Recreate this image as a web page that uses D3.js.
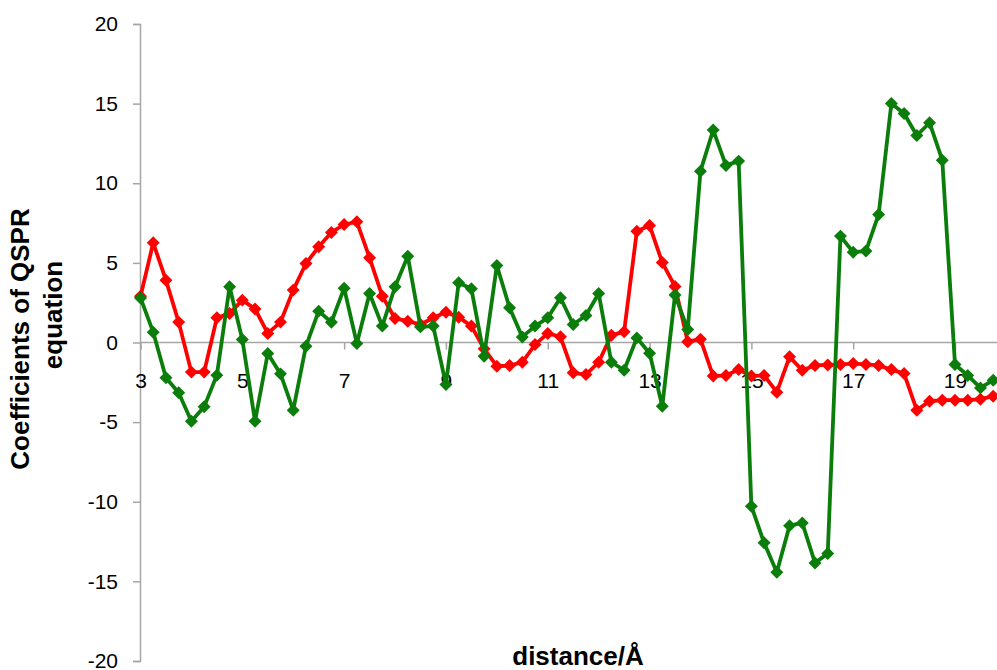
<!DOCTYPE html>
<html>
<head>
<meta charset="utf-8">
<script src="https://cdn.jsdelivr.net/npm/d3@7"></script>
<style>
  body { margin: 0; background: #fff; }
  svg { display: block; font-family: "Liberation Sans", Arial, sans-serif; }
</style>
</head>
<body>
<div id="chart"></div>
<script>
// distance in Angstrom, one point every 0.25
var distance = [3, 3.25, 3.5, 3.75, 4, 4.25, 4.5, 4.75, 5, 5.25, 5.5, 5.75,
  6, 6.25, 6.5, 6.75, 7, 7.25, 7.5, 7.75, 8, 8.25, 8.5, 8.75,
  9, 9.25, 9.5, 9.75, 10, 10.25, 10.5, 10.75, 11, 11.25, 11.5, 11.75,
  12, 12.25, 12.5, 12.75, 13, 13.25, 13.5, 13.75, 14, 14.25, 14.5, 14.75,
  15, 15.25, 15.5, 15.75, 16, 16.25, 16.5, 16.75, 17, 17.25, 17.5, 17.75,
  18, 18.25, 18.5, 18.75, 19, 19.25, 19.5, 19.75];

var redSeries = [2.9, 6.26, 3.91, 1.28, -1.86, -1.86, 1.55, 1.82, 2.66, 2.11, 0.57, 1.28,
  3.29, 4.96, 6.01, 6.91, 7.41, 7.58, 5.32, 2.91, 1.51, 1.34, 1.13, 1.55,
  1.9, 1.59, 1.03, -0.4, -1.49, -1.45, -1.24, -0.13, 0.57, 0.36, -1.9, -2.01,
  -1.24, 0.46, 0.67, 6.99, 7.35, 5.02, 3.52, 0.05, 0.21, -2.11, -2.07, -1.7,
  -2.11, -2.07, -3.12, -0.9, -1.74, -1.44, -1.41, -1.38, -1.32, -1.38, -1.44, -1.7,
  -1.95, -4.25, -3.69, -3.62, -3.62, -3.62, -3.56, -3.37];

var greenSeries = [2.8, 0.65, -2.22, -3.16, -4.94, -4.04, -2.05, 3.5, 0.19, -4.94, -0.69, -1.97,
  -4.25, -0.23, 1.97, 1.27, 3.41, -0.06, 3.08, 1.03, 3.5, 5.42, 0.98, 1.03,
  -2.64, 3.75, 3.37, -0.86, 4.84, 2.18, 0.35, 1.03, 1.55, 2.81, 1.13, 1.7,
  3.08, -1.24, -1.74, 0.29, -0.67, -4.0, 2.98, 0.82, 10.76, 13.34, 11.12, 11.39,
  -10.28, -12.58, -14.43, -11.5, -11.33, -13.84, -13.25, 6.68, 5.67, 5.74, 8.04, 15.01,
  14.38, 13.0, 13.8, 11.45, -1.38, -2.07, -2.85, -2.37];

var xTicks = [3, 5, 7, 9, 11, 13, 15, 17, 19];
var yTicks = [-20, -15, -10, -5, 0, 5, 10, 15, 20];

var width = 997, height = 670;
var svg = d3.select('#chart').append('svg').attr('width', width).attr('height', height);

var x = d3.scaleLinear().domain([3, 19]).range([140.5, 955]);
var y = d3.scaleLinear().domain([-20, 20]).range([661, 24]);
var axisColor = "#a6a6a6";
var plain = function (d) { return String(d); };

// y axis
var yAxis = svg.append('g').attr('transform', 'translate(140,0)')
  .call(d3.axisLeft(y).tickValues(yTicks).tickFormat(plain).tickSize(7).tickPadding(15));
yAxis.select('.domain').attr('stroke', axisColor).attr('stroke-width', 1.5);
yAxis.selectAll('.tick line').attr('stroke', axisColor).attr('stroke-width', 1.5);
yAxis.selectAll('.tick text').attr('font-size', 21).attr('fill', '#000')
  .attr('font-family', '"Liberation Sans", Arial, sans-serif');

// x axis through zero
var xAxis = svg.append('g').attr('transform', 'translate(0,' + y(0) + ')')
  .call(d3.axisBottom(x).tickValues(xTicks).tickFormat(plain).tickSize(7).tickPadding(24).tickSizeOuter(0));
xAxis.select('.domain').attr('d', 'M140,0H' + width).attr('stroke', axisColor).attr('stroke-width', 1.5);
xAxis.selectAll('.tick line').attr('stroke', axisColor).attr('stroke-width', 1.5);
xAxis.selectAll('.tick text').attr('font-size', 21).attr('fill', '#000')
  .attr('font-family', '"Liberation Sans", Arial, sans-serif');

// titles
svg.append('text').attr('transform', 'translate(29,339) rotate(-90)')
  .attr('text-anchor', 'middle').attr('font-size', 26).attr('font-weight', 'bold')
  .text('Coefficients of QSPR');
svg.append('text').attr('transform', 'translate(62,315) rotate(-90)')
  .attr('text-anchor', 'middle').attr('font-size', 26).attr('font-weight', 'bold')
  .text('equation');
svg.append('text').attr('x', 578).attr('y', 665)
  .attr('text-anchor', 'middle').attr('font-size', 26).attr('font-weight', 'bold')
  .text('distance/Å');

function drawSeries(values, color) {
  var pts = values.map(function (v, i) { return [distance[i], v]; });
  var line = d3.line().x(function (d) { return x(d[0]); }).y(function (d) { return y(d[1]); });
  svg.append('path').datum(pts).attr('d', line)
    .attr('fill', 'none').attr('stroke', color).attr('stroke-width', 3.8)
    .attr('stroke-linejoin', 'round');
  svg.append('g').selectAll('path').data(pts).enter().append('path')
    .attr('d', d3.symbol(d3.symbolSquare, 84))
    .attr('transform', function (d) { return 'translate(' + x(d[0]) + ',' + y(d[1]) + ') rotate(45)'; })
    .attr('fill', color);
}

drawSeries(redSeries, '#ff0000');
drawSeries(greenSeries, '#0b7d0b');
</script>
</body>
</html>
